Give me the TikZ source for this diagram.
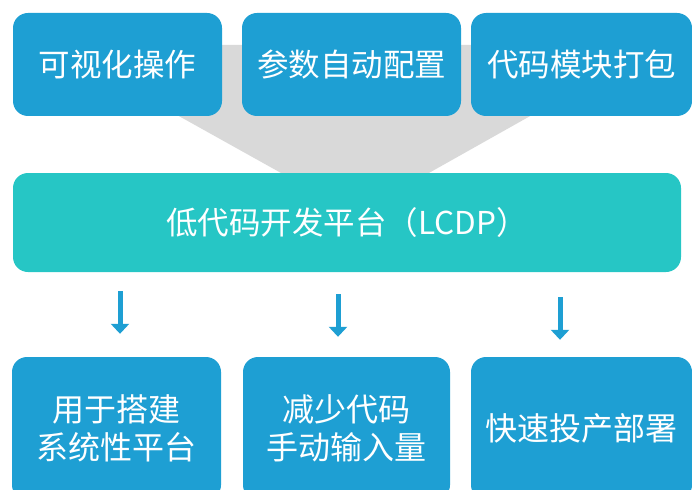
\documentclass[tikz,border=0pt]{standalone}
\usepackage{fontspec}
\setmainfont{Noto Sans CJK SC}
\usetikzlibrary{arrows.meta}
\definecolor{boxblue}{HTML}{1E9FD3}
\definecolor{boxteal}{HTML}{26C6C5}
\definecolor{fungray}{HTML}{D9D9D9}
\begin{document}
\begin{tikzpicture}[x=1pt,y=-1pt]
\tikzset{
  feature/.style={fill=boxblue,text=white,rounded corners=15pt,minimum width=209pt,minimum height=103pt,font=\fontsize{31.5}{36}\selectfont,align=center},
  platform/.style={fill=boxteal,text=white,rounded corners=15pt,minimum width=668pt,minimum height=99pt,font=\fontsize{31.5}{36}\selectfont},
  benefit/.style={feature,minimum height=143pt,font=\fontsize{32}{38}\selectfont},
  blockarrow/.style={draw=boxblue,line width=5pt,-{Triangle[width=18pt,length=10pt]}}
}
\clip (0,0) rectangle (692,489);
\fill[fungray] (175,45) -- (532,45) -- (532,115) -- (420,178) -- (290,178) -- (177,115) -- cycle;
\node[feature] (visual) at (117.5,64.5) {可视化操作};
\node[feature,minimum width=219pt] (config) at (351.5,64.5) {参数自动配置};
\node[feature,minimum width=221pt] (package) at (581.5,64.5) {代码模块打包};
\node[platform] (lcdp) at (347,222.5) {低代码开发平台（LCDP）};
\node[benefit] (build) at (116.5,428.5) {用于搭建\\系统性平台};
\node[benefit,minimum width=207pt] (reduce) at (346.5,428.5) {减少代码\\手动输入量};
\node[benefit,minimum width=221pt] (deploy) at (581.5,428.5) {快速投产部署};
\coordinate (a1) at (120,300);
\coordinate (a2) at (338,300);
\coordinate (a3) at (560,300);
\draw[blockarrow,shorten <=19pt,shorten >=23pt] (lcdp.south -| a1) -- (build.north -| a1);
\draw[blockarrow,shorten <=22pt,shorten >=20pt] (lcdp.south -| a2) -- (reduce.north -| a2);
\draw[blockarrow,shorten <=25pt,shorten >=17pt] (lcdp.south -| a3) -- (deploy.north -| a3);
\end{tikzpicture}
\end{document}
